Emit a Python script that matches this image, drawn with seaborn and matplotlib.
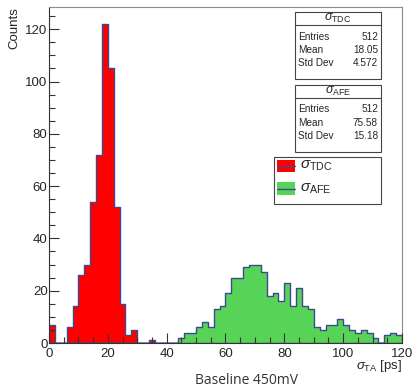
import pandas as pd
import matplotlib
matplotlib.use('Agg')
import matplotlib.pyplot as plt
import matplotlib.transforms as mtransforms
from matplotlib.patches import Rectangle
from matplotlib.lines import Line2D
from matplotlib.ticker import MultipleLocator
import seaborn as sns

# sigma TDC histogram (bin centres, counts), 2 ps bins from 0 to 120
tdc_bins = [1, 7, 9, 11, 13, 15, 17, 19, 21, 23, 25, 27, 29, 35]
tdc_counts = [7, 6, 14, 26, 30, 54, 72, 122, 105, 52, 15, 3, 5, 1]

# sigma AFE histogram (bin centres, counts)
afe_bins = [45, 47, 49, 51, 53, 55, 57, 59, 61, 63, 65, 67, 69, 71, 73, 75, 77, 79,
            81, 83, 85, 87, 89, 91, 93, 95, 97, 99, 101, 103, 105, 107, 109, 111,
            113, 115, 117, 119]
afe_counts = [2, 4, 4, 6, 8, 6, 13, 14, 19, 25, 25, 29, 30, 30, 27, 18, 19, 16,
              23, 14, 21, 14, 13, 6, 5, 7, 7, 9, 7, 5, 4, 5, 4, 2,
              0, 3, 4, 3]

stat_names = ['Entries', 'Mean', 'Std Dev']
tdc_stats = ['512', '18.05', '4.572']
afe_stats = ['512', '75.58', '15.18']

tdc_label = r'$\sigma_{\mathrm{TDC}}$'
afe_label = r'$\sigma_{\mathrm{AFE}}$'

tdc_df = pd.DataFrame({'sigma': tdc_bins, 'count': tdc_counts})
afe_df = pd.DataFrame({'sigma': afe_bins, 'count': afe_counts})

red = '#ff0000'
green = '#57d357'
line_blue = '#3c4a8f'

sns.set_style('ticks')
plt.rcParams['font.family'] = ['Liberation Sans', 'DejaVu Sans']
plt.rcParams['mathtext.fontset'] = 'custom'
plt.rcParams['mathtext.rm'] = 'Liberation Sans'
plt.rcParams['mathtext.it'] = 'Liberation Sans:italic'
plt.rcParams['axes.axisbelow'] = False

fig = plt.figure(figsize=(4.14, 3.88), dpi=100)
ax = fig.add_axes([49 / 414, 45 / 388, 353 / 414, 336 / 388])

sns.histplot(data=tdc_df, x='sigma', weights='count', binwidth=2, binrange=(0, 120),
             element='step', fill=True, color=red, edgecolor=line_blue, linewidth=1,
             alpha=1, ax=ax)
sns.histplot(data=afe_df, x='sigma', weights='count', binwidth=2, binrange=(0, 120),
             element='step', fill=True, color=green, edgecolor=line_blue, linewidth=1,
             alpha=1, ax=ax)

ax.set_xlim(0, 120)
ax.set_ylim(0, 128.5)
ax.xaxis.set_major_locator(MultipleLocator(20))
ax.xaxis.set_minor_locator(MultipleLocator(5))
ax.yaxis.set_major_locator(MultipleLocator(20))
ax.yaxis.set_minor_locator(MultipleLocator(5))
ax.tick_params(which='both', direction='in', top=False, right=False, color='#333333', width=0.8)
ax.tick_params(which='major', length=7.5, labelsize=9.5)
ax.tick_params(which='minor', length=4)
ax.tick_params(axis='x', which='major', pad=3.5)
ax.tick_params(axis='y', which='major', pad=1)

for side in ['left', 'bottom']:
    ax.spines[side].set_color('#333333')
    ax.spines[side].set_linewidth(0.8)
for side in ['top', 'right']:
    ax.spines[side].set_color('#8a8a8a')
    ax.spines[side].set_linewidth(0.8)

ax.set_ylabel('Counts', loc='top', fontsize=9.5)
ax.yaxis.set_label_coords(-0.08, 1.0)
ax.set_xlabel(r'$\sigma_{\mathrm{TA}}$ [ps]', loc='right', fontsize=9.5)
ax.xaxis.set_label_coords(1.0, -0.045)

# pixel coordinates, origin at top-left of the figure
px = mtransforms.Affine2D().scale(1 / 414, -1 / 388).translate(0, 1) + fig.transFigure


def stats_box(top, title, values):
    fig.add_artist(Rectangle((295, top), 86, 66.5, transform=px,
                             facecolor='white', edgecolor='#444444', lw=0.8))
    fig.add_artist(Line2D([295, 381], [top + 12.5, top + 12.5], transform=px,
                          color='#444444', lw=0.8))
    fig.text(338, top + 6.5, title, transform=px, ha='center', va='center', fontsize=9)
    for dy, name, val in zip([24.5, 38, 51.2], stat_names, values):
        fig.text(298, top + dy, name, transform=px, ha='left', va='center', fontsize=7.2)
        fig.text(378, top + dy, val, transform=px, ha='right', va='center', fontsize=7.2)


stats_box(12, tdc_label, tdc_stats)
stats_box(85, afe_label, afe_stats)

# legend
fig.add_artist(Rectangle((274, 157), 107, 47, transform=px,
                         facecolor='white', edgecolor='#444444', lw=0.8))
for y0, col, lab in [(159.5, red, tdc_label), (182, green, afe_label)]:
    fig.add_artist(Rectangle((277, y0), 18, 12.5, transform=px, facecolor=col, edgecolor='none'))
    fig.add_artist(Line2D([277, 295], [y0 + 6.5, y0 + 6.5], transform=px, color=line_blue, lw=1))
    fig.text(300, y0 + 6.5, lab, transform=px, ha='left', va='center', fontsize=11)

fig.text(247 / 414, 1 - 381 / 388, 'Baseline 450mV', ha='center', va='center',
         fontsize=10, family='Open Sans', color='#333333')

fig.savefig('out.png', dpi=100)
